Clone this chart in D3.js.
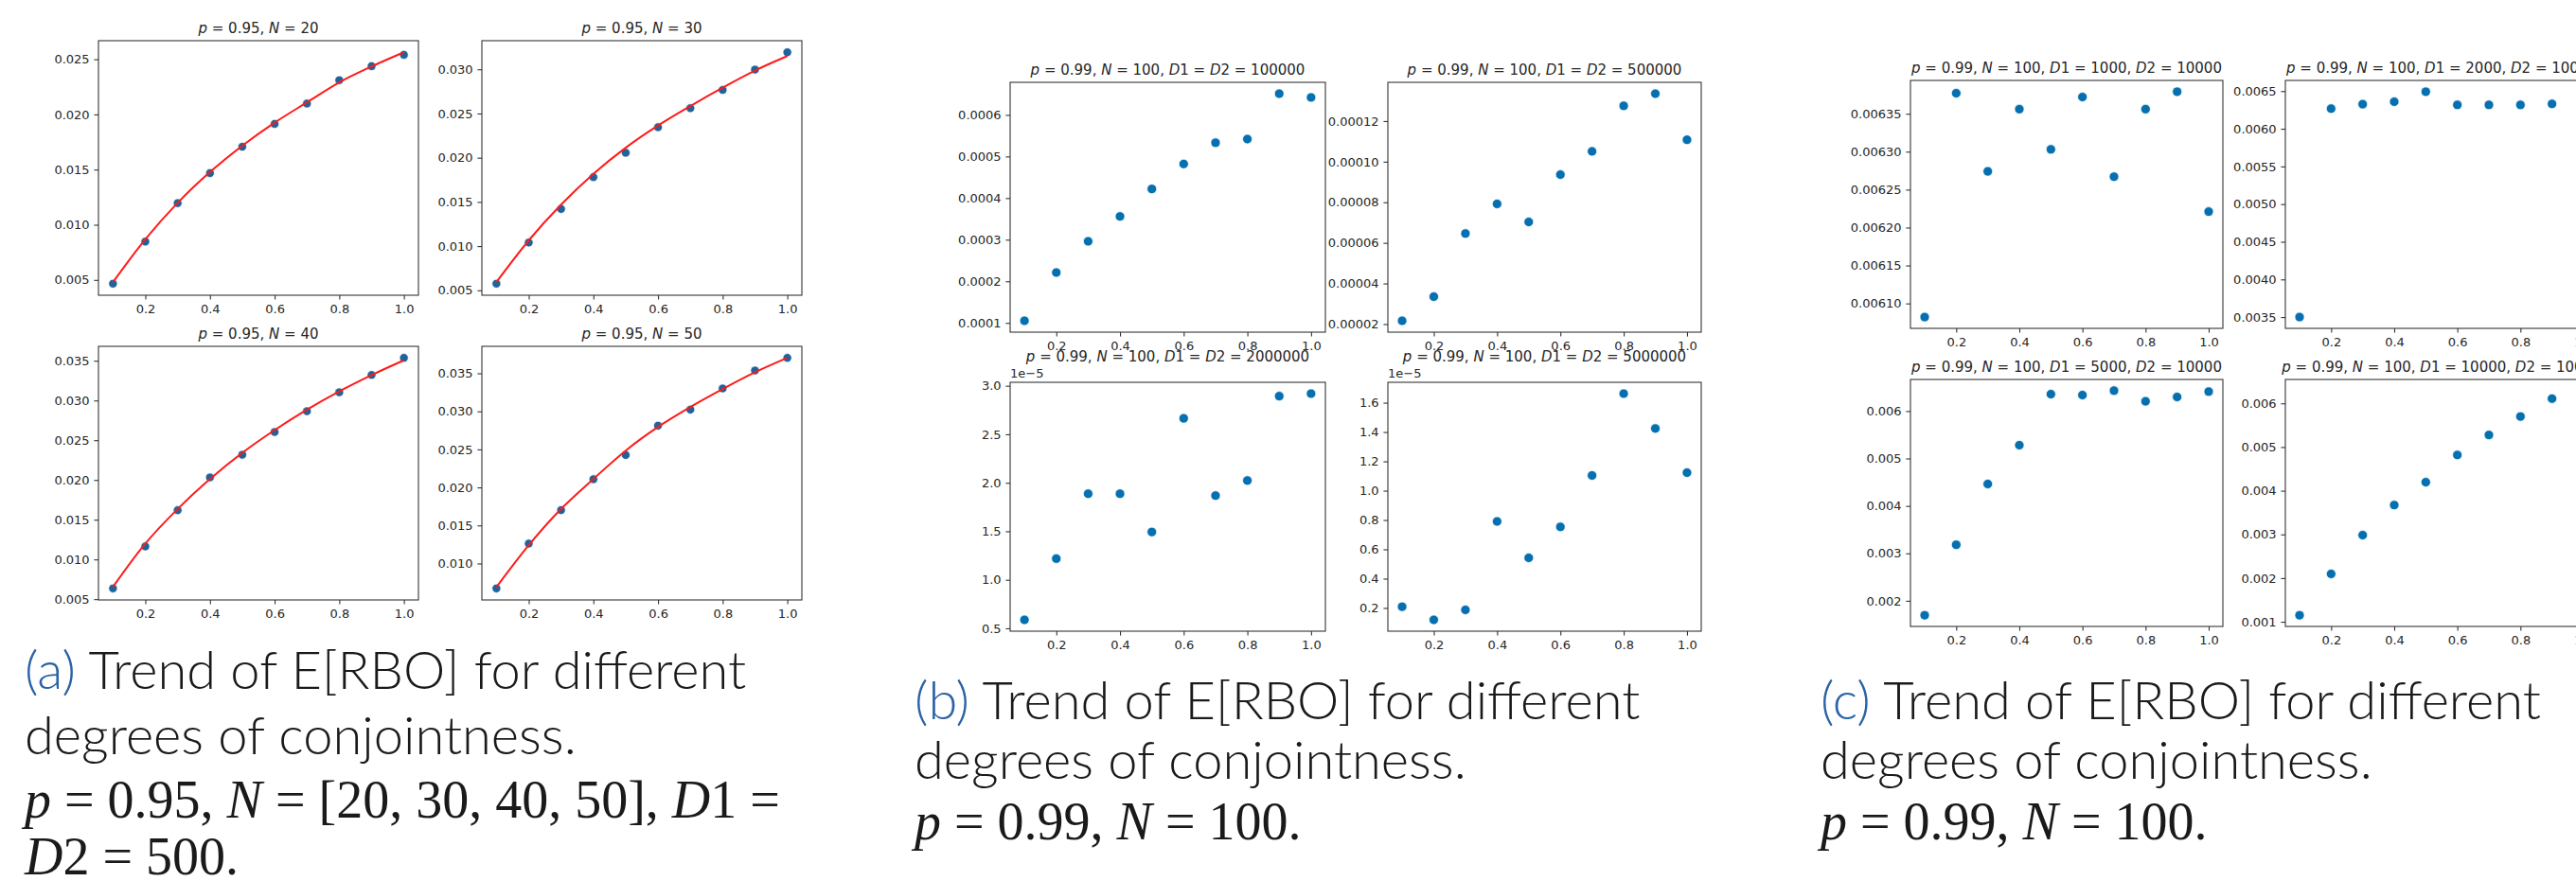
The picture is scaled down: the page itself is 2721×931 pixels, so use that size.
<!DOCTYPE html>
<html>
<head>
<meta charset="utf-8">
<title>Trend of E[RBO]</title>
<script src="https://d3js.org/d3.v7.min.js"></script>
<style>
  body { margin: 0; background: #fff; }
  svg text { font-family: "DejaVu Sans", sans-serif; fill: #262626; }
  .cap { font-family: Lato, "Open Sans", sans-serif; font-weight: 300; font-size: 56px; fill: #1a1a1a; }
  .math { font-family: "Liberation Serif", serif; font-size: 56px; fill: #1a1a1a; }
</style>
</head>
<body>
<svg id="fig" width="2721" height="931"></svg>
<script>
// degree of conjointness (x axis of every subplot)
const conj = [0.1, 0.2, 0.3, 0.4, 0.5, 0.6, 0.7, 0.8, 0.9, 1.0];
const xTicks = [0.2, 0.4, 0.6, 0.8, 1.0];

// (a) p = 0.95, D1 = D2 = 500 -- simulated points and fitted curve
const n20Dots = [0.00466, 0.00847, 0.01196, 0.01468, 0.01707, 0.01914, 0.02098, 0.0231, 0.02437, 0.0254];
const n20Fit  = [0.0048, 0.00868, 0.01198, 0.01477, 0.01716, 0.01925, 0.02109, 0.0229, 0.02434, 0.02563];
const n30Dots = [0.00575, 0.0104, 0.0142, 0.0178, 0.02056, 0.02345, 0.0256, 0.02767, 0.02997, 0.03193];
const n30Fit  = [0.00593, 0.01065, 0.01469, 0.01817, 0.02113, 0.02364, 0.02585, 0.02793, 0.02986, 0.0315];
const n40Dots = [0.00635, 0.01163, 0.01619, 0.02032, 0.02317, 0.02603, 0.02865, 0.03103, 0.03321, 0.03536];
const n40Fit  = [0.00655, 0.0120, 0.01635, 0.02012, 0.02341, 0.02627, 0.02885, 0.03115, 0.0332, 0.03506];
const n50Dots = [0.00672, 0.01261, 0.01701, 0.02107, 0.02426, 0.02812, 0.03023, 0.03301, 0.03537, 0.03703];
const n50Fit  = [0.00689, 0.0124, 0.01717, 0.02111, 0.02484, 0.02795, 0.03057, 0.03293, 0.03513, 0.03703];

// (b) p = 0.99, N = 100, D1 = D2
const d100k = [0.000105, 0.000221, 0.000296, 0.000356, 0.000422, 0.000482, 0.000533, 0.000542, 0.000651, 0.000642];
const d500k = [2.16e-5, 3.35e-5, 6.46e-5, 7.92e-5, 7.03e-5, 9.36e-5, 10.51e-5, 12.75e-5, 13.35e-5, 11.08e-5];
const d2m   = [0.587e-5, 1.218e-5, 1.887e-5, 1.887e-5, 1.493e-5, 2.664e-5, 1.868e-5, 2.023e-5, 2.893e-5, 2.919e-5];
const d5m   = [0.2085e-5, 0.1188e-5, 0.187e-5, 0.79e-5, 0.542e-5, 0.753e-5, 1.104e-5, 1.662e-5, 1.424e-5, 1.123e-5];

// (c) p = 0.99, N = 100, D2 = 10000
const d1000  = [0.006082, 0.006377, 0.006274, 0.006356, 0.006303, 0.006372, 0.006267, 0.006356, 0.006379, 0.006221];
const d2000  = [0.0035, 0.006267, 0.006326, 0.006359, 0.006492, 0.006317, 0.006317, 0.006317, 0.00633, 0.00633];
const d5000  = [0.001696, 0.003182, 0.004462, 0.005281, 0.006356, 0.006337, 0.006429, 0.006205, 0.006297, 0.006409];
const d10000 = [0.00115, 0.002096, 0.002984, 0.003672, 0.004195, 0.004818, 0.005277, 0.005699, 0.006107, 0.00629];

// y tick values
const ticksA20 = [0.005, 0.010, 0.015, 0.020, 0.025];
const ticksA30 = [0.005, 0.010, 0.015, 0.020, 0.025, 0.030];
const ticksA40 = [0.005, 0.010, 0.015, 0.020, 0.025, 0.030, 0.035];
const ticksA50 = [0.010, 0.015, 0.020, 0.025, 0.030, 0.035];
const ticksB1 = [0.0001, 0.0002, 0.0003, 0.0004, 0.0005, 0.0006];
const ticksB2 = [0.00002, 0.00004, 0.00006, 0.00008, 0.00010, 0.00012];
const ticksB3 = [0.5e-5, 1.0e-5, 1.5e-5, 2.0e-5, 2.5e-5, 3.0e-5];
const ticksB4 = [0.2e-5, 0.4e-5, 0.6e-5, 0.8e-5, 1.0e-5, 1.2e-5, 1.4e-5, 1.6e-5];
const ticksC1 = [0.0061, 0.00615, 0.0062, 0.00625, 0.0063, 0.00635];
const ticksC2 = [0.0035, 0.0040, 0.0045, 0.0050, 0.0055, 0.0060, 0.0065];
const ticksC3 = [0.002, 0.003, 0.004, 0.005, 0.006];
const ticksC4 = [0.001, 0.002, 0.003, 0.004, 0.005, 0.006];

const svg = d3.select("#fig");
svg.append("rect").attr("width", 2721).attr("height", 931).attr("fill", "#fff");

const sci = d => (d * 1e5).toFixed(1);

// title pieces: [text, italic]
function t(...parts) { return parts; }

const panels = [
  {box: [104, 442, 43, 312], title: t(["p",1],[" = 0.95, ",0],["N",1],[" = 20",0]), dots: n20Dots, fit: n20Fit, ticks: ticksA20, fmt: d3.format(".3f"), col: "#1f639c"},
  {box: [509, 847, 43, 312], title: t(["p",1],[" = 0.95, ",0],["N",1],[" = 30",0]), dots: n30Dots, fit: n30Fit, ticks: ticksA30, fmt: d3.format(".3f"), col: "#1f639c"},
  {box: [104, 442, 366, 634], title: t(["p",1],[" = 0.95, ",0],["N",1],[" = 40",0]), dots: n40Dots, fit: n40Fit, ticks: ticksA40, fmt: d3.format(".3f"), col: "#1f639c"},
  {box: [509, 847, 366, 634], title: t(["p",1],[" = 0.95, ",0],["N",1],[" = 50",0]), dots: n50Dots, fit: n50Fit, ticks: ticksA50, fmt: d3.format(".3f"), col: "#1f639c"},

  {box: [1067, 1400, 87, 351], title: t(["p",1],[" = 0.99, ",0],["N",1],[" = 100, ",0],["D",1],["1 = ",0],["D",1],["2 = 100000",0]), dots: d100k, ticks: ticksB1, fmt: d3.format(".4f")},
  {box: [1466, 1797, 87, 351], title: t(["p",1],[" = 0.99, ",0],["N",1],[" = 100, ",0],["D",1],["1 = ",0],["D",1],["2 = 500000",0]), dots: d500k, ticks: ticksB2, fmt: d3.format(".5f")},
  {box: [1067, 1400, 404, 667], title: t(["p",1],[" = 0.99, ",0],["N",1],[" = 100, ",0],["D",1],["1 = ",0],["D",1],["2 = 2000000",0]), dots: d2m, ticks: ticksB3, fmt: sci, offset: "1e\u22125", titleY: 382},
  {box: [1466, 1797, 404, 667], title: t(["p",1],[" = 0.99, ",0],["N",1],[" = 100, ",0],["D",1],["1 = ",0],["D",1],["2 = 5000000",0]), dots: d5m, ticks: ticksB4, fmt: sci, offset: "1e\u22125", titleY: 382},

  {box: [2018, 2348, 85, 347], title: t(["p",1],[" = 0.99, ",0],["N",1],[" = 100, ",0],["D",1],["1 = 1000, ",0],["D",1],["2 = 10000",0]), dots: d1000, ticks: ticksC1, fmt: d3.format(".5f")},
  {box: [2414, 2744, 85, 347], title: t(["p",1],[" = 0.99, ",0],["N",1],[" = 100, ",0],["D",1],["1 = 2000, ",0],["D",1],["2 = 10000",0]), dots: d2000, ticks: ticksC2, fmt: d3.format(".4f")},
  {box: [2018, 2348, 401, 662], title: t(["p",1],[" = 0.99, ",0],["N",1],[" = 100, ",0],["D",1],["1 = 5000, ",0],["D",1],["2 = 10000",0]), dots: d5000, ticks: ticksC3, fmt: d3.format(".3f")},
  {box: [2414, 2744, 401, 662], title: t(["p",1],[" = 0.99, ",0],["N",1],[" = 100, ",0],["D",1],["1 = 10000, ",0],["D",1],["2 = 10000",0]), dots: d10000, ticks: ticksC4, fmt: d3.format(".3f")}
];

function drawPanel(p) {
  const [x0, x1, y0, y1] = p.box;
  const g = svg.append("g");

  // matplotlib style 5% margins
  const [xa, xb] = d3.extent(conj);
  const xm = (xb - xa) * 0.05;
  const x = d3.scaleLinear().domain([xa - xm, xb + xm]).range([x0, x1]);
  const [ya, yb] = d3.extent(p.dots.concat(p.fit || []));
  const ym = (yb - ya) * 0.05;
  const y = d3.scaleLinear().domain([ya - ym, yb + ym]).range([y1, y0]);

  const xAxis = g.append("g").attr("transform", `translate(0,${y1})`)
    .call(d3.axisBottom(x).tickValues(xTicks).tickFormat(d3.format(".1f")).tickSize(4.6).tickPadding(5.5));
  const yAxis = g.append("g").attr("transform", `translate(${x0},0)`)
    .call(d3.axisLeft(y).tickValues(p.ticks).tickFormat(p.fmt).tickSize(4.6).tickPadding(4.8));
  [xAxis, yAxis].forEach(a => {
    a.select(".domain").remove();
    a.selectAll(".tick line").attr("stroke", "#333").attr("stroke-width", 1.1);
    a.selectAll(".tick text").attr("font-size", 13).attr("font-family", "DejaVu Sans").attr("fill", "#262626");
  });

  if (p.fit) {
    g.append("path")
      .datum(conj.map((c, i) => [c, p.fit[i]]))
      .attr("fill", "none").attr("stroke", "#ff1a1a").attr("stroke-width", 2)
      .attr("d", d3.line().x(d => x(d[0])).y(d => y(d[1])).curve(d3.curveMonotoneX));
  }

  g.selectAll("circle").data(conj.map((c, i) => [c, p.dots[i]])).join("circle")
    .attr("cx", d => x(d[0])).attr("cy", d => y(d[1]))
    .attr("r", p.fit ? 4.6 : 5)
    .attr("fill", p.col || "#0570b0")
    .attr("stroke", "#fff").attr("stroke-width", 0.7);

  // keep the fitted line above the dots, as in the figure
  g.select("path").raise();

  g.append("rect").attr("x", x0).attr("y", y0).attr("width", x1 - x0).attr("height", y1 - y0)
    .attr("fill", "none").attr("stroke", "#333").attr("stroke-width", 1.1);

  if (p.offset) {
    g.append("text").attr("x", x0).attr("y", y0 - 5).attr("font-size", 13).text(p.offset);
  }

  const tt = g.append("text").attr("x", (x0 + x1) / 2).attr("y", p.titleY || y0 - 8)
    .attr("text-anchor", "middle").attr("font-size", 15);
  p.title.forEach(([s, it]) => tt.append("tspan").attr("font-style", it ? "italic" : "normal").text(s));
}

panels.forEach(drawPanel);

// captions
function caption(x, yy, label, mathLines) {
  const t1 = svg.append("text").attr("class", "cap").attr("x", x).attr("y", yy[0]);
  t1.append("tspan").style("fill", "#2b63a6").text(label);
  t1.append("tspan").text(" Trend of E[RBO] for different");
  svg.append("text").attr("class", "cap").attr("x", x).attr("y", yy[1]).text("degrees of conjointness.");
  mathLines.forEach((parts, k) => {
    const m = svg.append("text").attr("class", "math").attr("x", x).attr("y", yy[2 + k]);
    parts.forEach(([s, it]) => m.append("tspan").attr("font-style", it ? "italic" : "normal").text(s));
  });
}

caption(26, [728, 797, 864, 924], "(a)", [
  [["p",1],[" = 0.95, ",0],["N",1],[" = [20, 30, 40, 50], ",0],["D",1],["1 =",0]],
  [["D",1],["2 = 500.",0]]
]);
caption(966, [760, 823, 887], "(b)", [
  [["p",1],[" = 0.99, ",0],["N",1],[" = 100.",0]]
]);
caption(1923, [760, 823, 887], "(c)", [
  [["p",1],[" = 0.99, ",0],["N",1],[" = 100.",0]]
]);
</script>
</body>
</html>
